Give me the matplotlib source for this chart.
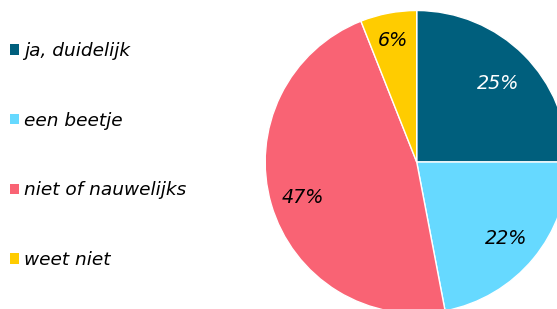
import matplotlib
matplotlib.use("Agg")
import matplotlib.pyplot as plt

categories = ["ja, duidelijk", "een beetje", "niet of nauwelijks", "weet niet"]
values = [25, 22, 47, 6]
colors = ["#005f7d", "#66d9ff", "#f96374", "#ffcc00"]
label_colors = ["white", "black", "black", "black"]
label_dist = [0.76, 0.765, 0.785, 0.83]

plt.rcParams["font.family"] = ["DejaVu Sans"]

W, H = 557, 309
fig = plt.figure(figsize=(W / 100, H / 100), dpi=100)
cx, cy, r = 416.7, 309 - 162.0, 151.5
ax = fig.add_axes([(cx - r) / W, (cy - r) / H, 2 * r / W, 2 * r / H])
wedges, texts, autotexts = ax.pie(
    values, colors=colors, startangle=90, counterclock=False,
    autopct=lambda p: f"{p:.0f}%", pctdistance=0.75,
    wedgeprops=dict(edgecolor="white", linewidth=1.0),
    textprops=dict(fontsize=13.8, style="italic"),
)
dy = -2.5 / r
for t, c, d in zip(autotexts, label_colors, label_dist):
    x, y = t.get_position()
    t.set_position((x * d / 0.75, y * d / 0.75 + dy))
    t.set_color(c)
ax.set_xlim(-1, 1)
ax.set_ylim(-1, 1)
ax.set_aspect("equal")
ax.axis("off")

leg = fig.legend(
    wedges, categories, loc="upper left", bbox_to_anchor=(10 / W, 1 - 42 / H),
    frameon=False, prop=dict(size=13.3, style="italic"),
    handlelength=0.5, handleheight=0.5, handletextpad=0.28,
    labelspacing=2.8, borderpad=0, borderaxespad=0,
)
for p in leg.get_patches():
    p.set_edgecolor("none")

fig.savefig("out.png", dpi=100)
